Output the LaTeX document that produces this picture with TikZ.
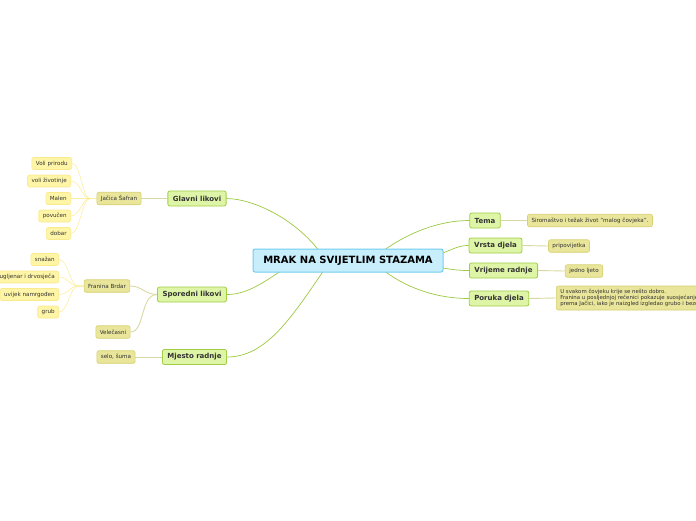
\documentclass[tikz,border=0pt]{standalone}
\usepackage{fontspec}
\setmainfont{DejaVu Sans}
\usetikzlibrary{backgrounds}
\definecolor{cfill}{HTML}{C8EEFB}
\definecolor{cdraw}{HTML}{6FCDEE}
\definecolor{mfill}{HTML}{DEF4A6}
\definecolor{mdraw}{HTML}{A0CF45}
\definecolor{sfill}{HTML}{E9E59A}
\definecolor{sdraw}{HTML}{D6D070}
\definecolor{lfill}{HTML}{FFF5A6}
\definecolor{ldraw}{HTML}{FBE98E}
\definecolor{lineA}{HTML}{9CC83F}
\definecolor{lineB}{HTML}{D8D9A2}
\definecolor{lineC}{HTML}{FDEDA0}
\definecolor{txt}{HTML}{333333}
\tikzset{
  central/.style={draw=cdraw, fill=cfill, line width=1pt, rounded corners=2pt, minimum width=190pt, minimum height=23pt, inner sep=0pt, font=\fontsize{10}{12}\selectfont\bfseries, text=black},
  topic/.style={draw=mdraw, fill=mfill, line width=0.8pt, rounded corners=2pt, minimum height=15pt, inner xsep=5pt, inner ysep=0pt, font=\fontsize{7}{8}\selectfont\bfseries, text=txt},
  sub/.style={draw=sdraw, fill=sfill, line width=0.6pt, rounded corners=2pt, minimum height=12.5pt, inner xsep=4pt, inner ysep=0pt, font=\fontsize{5.6}{6.6}\selectfont, text=txt},
  leaf/.style={draw=ldraw, fill=lfill, line width=0.6pt, rounded corners=2pt, minimum height=12pt, inner xsep=4pt, inner ysep=0pt, font=\fontsize{5.6}{6.6}\selectfont, text=txt},
  la/.style={draw=lineA, line width=0.7pt},
  lb/.style={draw=lineB, line width=0.9pt},
  lc/.style={draw=lineC, line width=0.6pt},
}
\begin{document}
\begin{tikzpicture}[x=1pt,y=-1pt]
\useasboundingbox (0,0) rectangle (696,520);
% central
\node[central] (c) at (348,260.5) {MRAK NA SVIJETLIM STAZAMA};
% topics
\node[topic] (gl) at (197,198.5) {Glavni likovi};
\node[topic] (sp) at (192,294.5) {Sporedni likovi};
\node[topic] (mj) at (194.5,357) {Mjesto radnje};
\node[topic] (te) at (485,220.5) {Tema};
\node[topic] (vr) at (495.5,245.5) {Vrsta djela};
\node[topic] (vi) at (503.5,270.5) {Vrijeme radnje};
\node[topic] (po) at (499,298.5) {Poruka djela};
% subs
\node[sub] (ja) at (119,198.5) {Jačica Šafran};
\node[sub] (fr) at (107,286) {Franina Brdar};
\node[sub] (ve) at (113,332) {Velečasni};
\node[sub] (se) at (116,357) {selo, šuma};
\node[sub] (si) at (590,220.5) {Siromaštvo i težak život "malog čovjeka".};
\node[sub] (pr) at (569,246) {pripovijetka};
\node[sub] (jl) at (584,271) {jedno ljeto};
\node[sub, anchor=west, minimum height=24pt, align=left, font=\fontsize{5.4}{6.2}\selectfont] (pu) at (556,298) {U svakom čovjeku krije se nešto dobro.\\Franina u posljednjoj rečenici pokazuje suosjećanje\\prema Jačici, iako je naizgled izgledao grubo i bezosjećajno.};
% leaves
\node[leaf, anchor=east] (l1) at (72,163.5) {Voli prirodu};
\node[leaf, anchor=east] (l2) at (71,181) {voli životinje};
\node[leaf, anchor=east] (l3) at (71,198.5) {Malen};
\node[leaf, anchor=east] (l4) at (71,216) {povučen};
\node[leaf, anchor=east] (l5) at (71,233.5) {dobar};
\node[leaf, anchor=east] (k1) at (59,259.5) {snažan};
\node[leaf, anchor=east] (k2) at (59,277) {ugljenar i drvosječa};
\node[leaf, anchor=east] (k3) at (59,294.5) {uvijek namrgođen};
\node[leaf, anchor=east] (k4) at (59,312) {grub};
% connector anchors on the central topic
\coordinate (cgl) at (318,249.5);
\coordinate (csp) at (280,271.5);
\coordinate (cmj) at (323,271.5);
\coordinate (cte) at (385,249.5);
\coordinate (cvr) at (443,253);
\coordinate (cvi) at (443,268);
\coordinate (cpo) at (385,271.5);
\coordinate (jj) at (90,198.5);
\coordinate (ff) at (78,286);
\begin{scope}[on background layer]
\draw[la] (cgl) .. controls (295,220) and (255,199) .. (gl.east);
\draw[la] (csp) .. controls (260,285) and (245,294.5) .. (sp.east);
\draw[la] (cmj) .. controls (290,320) and (265,357) .. (mj.east);
\draw[la] (cte) .. controls (410,232) and (440,220.5) .. (te.west);
\draw[la] (cvr) .. controls (455,248) and (460,245.5) .. (vr.west);
\draw[la] (cvi) .. controls (455,270) and (460,270.5) .. (vi.west);
\draw[la] (cpo) .. controls (410,290) and (440,298.5) .. (po.west);
% sub connectors
\draw[lb] (gl.west) -- (ja.east);
\draw[lb] (mj.west) -- (se.east);
\draw[lb] (sp.west) .. controls (145,294.5) and (142,286) .. (fr.east);
\draw[lb] (sp.west) .. controls (140,294.5) and (145,332) .. (ve.east);
\draw[lb] (te.east) -- (si.west);
\draw[lb] (vr.east) -- (pr.west);
\draw[lb] (vi.east) -- (jl.west);
\draw[lb] (po.east) -- (pu.west);
% leaf connectors
\foreach \l in {l1,l2,l3,l4,l5}{
  \draw[lc] (ja.west) -- (jj) .. controls +(-8,0) and +(9,0) .. (\l.east);
}
\foreach \k in {k1,k2,k3,k4}{
  \draw[lc] (fr.west) -- (ff) .. controls +(-8,0) and +(9,0) .. (\k.east);
}
\end{scope}
\end{tikzpicture}
\end{document}
